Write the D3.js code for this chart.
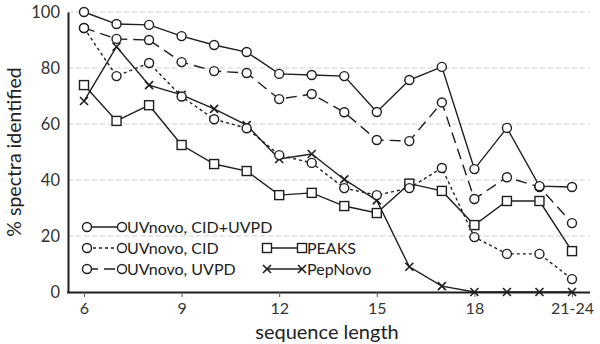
<!DOCTYPE html>
<html>
<head>
<meta charset="utf-8">
<script src="https://cdn.jsdelivr.net/npm/d3@7"></script>
<style>
  body { margin: 0; background: #fff; }
  svg { display: block; font-family: Lato, "Open Sans", sans-serif; }
</style>
</head>
<body>
<div id="chart"></div>
<script>
// Categories (sequence length)
const lengths = ['6', '7', '8', '9', '10', '11', '12', '13', '14', '15', '16', '17', '18', '19', '20', '21-24'];
const tickLabels = ['6', '9', '12', '15', '18', '21-24'];
const yTicks = [0, 20, 40, 60, 80, 100];

// % spectra identified per method
const cidUvpd = [100, 95.7, 95.4, 91.4, 88.2, 85.7, 77.9, 77.5, 77.1, 64.3, 75.7, 80.4, 43.9, 58.6, 37.8, 37.5];
const cid     = [94.3, 77.1, 81.8, 69.8, 61.7, 58.5, 48.9, 46.1, 37.1, 34.6, 37.1, 44.3, 19.6, 13.6, 13.6, 4.6];
const uvpd    = [94.3, 90.4, 90, 82.1, 78.9, 78.2, 68.9, 70.7, 64.2, 54.3, 53.9, 67.7, 33.2, 41, 37.5, 24.6];
const peaks   = [73.9, 61.1, 66.7, 52.5, 45.7, 43.2, 34.6, 35.4, 30.7, 28.2, 38.7, 36.1, 23.9, 32.5, 32.5, 14.6];
const pepNovo = [68.2, 87.6, 73.9, 70.4, 65.4, 59.6, 47.5, 49.3, 40.2, 32.7, 9, 2.1, 0, 0, 0, 0];

const series = [
    { name: 'UVnovo, CID+UVPD', values: cidUvpd, dash: null, marker: 'circle' },
    { name: 'UVnovo, CID', values: cid, dash: '3,3', marker: 'circle' },
    { name: 'UVnovo, UVPD', values: uvpd, dash: '11,6', marker: 'circle' },
    { name: 'PEAKS', values: peaks, dash: null, marker: 'square' },
    { name: 'PepNovo', values: pepNovo, dash: null, marker: 'cross' }
];

const width = 600, height = 344;
const ink = '#1e1e1e';

const svg = d3.select('#chart')
    .append('svg')
    .attr('width', width)
    .attr('height', height);

// Scales
const x = d3.scalePoint()
    .domain(lengths)
    .range([84, 572]);

const y = d3.scaleLinear()
    .domain([0, 100])
    .range([292, 12]);

// Grid lines
svg.selectAll('.grid')
    .data(yTicks.filter(d => d > 0))
    .enter()
    .append('line')
    .attr('x1', 68)
    .attr('x2', 590)
    .attr('y1', d => y(d))
    .attr('y2', d => y(d))
    .attr('stroke', '#cfcfcf')
    .attr('stroke-width', 1)
    .attr('stroke-dasharray', '5,3');

// Y axis
const yAxis = svg.append('g')
    .attr('transform', 'translate(68,0)')
    .call(d3.axisLeft(y).tickValues(yTicks).tickSize(0).tickPadding(8));
yAxis.select('.domain').attr('stroke', ink).attr('stroke-width', 2);
yAxis.selectAll('text')
    .attr('fill', '#333')
    .style('font-size', '16.5px')
    .style('font-family', 'Lato, sans-serif');

// X axis
const xAxis = svg.append('g')
    .attr('transform', 'translate(0,292)')
    .call(d3.axisBottom(x).tickValues(tickLabels).tickSize(5).tickPadding(6).tickSizeOuter(0));
xAxis.select('.domain')
    .attr('d', 'M67,0.5H590')
    .attr('stroke', ink).attr('stroke-width', 2);
xAxis.selectAll('.tick line').attr('stroke', '#555');
xAxis.selectAll('text')
    .attr('fill', '#333')
    .style('font-size', '16px')
    .style('font-family', 'Lato, sans-serif');

// Axis titles
svg.append('text')
    .attr('x', 327)
    .attr('y', 339)
    .attr('text-anchor', 'middle')
    .attr('fill', '#222')
    .style('font-size', '20px')
    .text('sequence length');

svg.append('text')
    .attr('transform', 'translate(21,152) rotate(-90)')
    .attr('text-anchor', 'middle')
    .attr('fill', '#222')
    .style('font-size', '19.5px')
    .text('% spectra identified');

// Markers
function drawMarker(g, type, cx, cy) {
    if (type === 'circle') {
        g.append('circle')
            .attr('cx', cx).attr('cy', cy).attr('r', 4.5)
            .attr('fill', '#fff').attr('stroke', ink).attr('stroke-width', 1.4);
    } else if (type === 'square') {
        g.append('rect')
            .attr('x', cx - 4.5).attr('y', cy - 4.5)
            .attr('width', 9).attr('height', 9)
            .attr('fill', '#fff').attr('stroke', ink).attr('stroke-width', 1.4);
    } else {
        g.append('path')
            .attr('d', `M${cx - 4},${cy - 4}L${cx + 4},${cy + 4}M${cx - 4},${cy + 4}L${cx + 4},${cy - 4}`)
            .attr('stroke', ink).attr('stroke-width', 1.6);
    }
}

const line = d3.line()
    .x((d, i) => x(lengths[i]))
    .y(d => y(d));

// Lines drawn back to front
[...series].reverse().forEach(s => {
    svg.append('path')
        .datum(s.values)
        .attr('d', line)
        .attr('fill', 'none')
        .attr('stroke', ink)
        .attr('stroke-width', 1.4)
        .attr('stroke-dasharray', s.dash);
});
[...series].reverse().forEach(s => {
    const g = svg.append('g');
    s.values.forEach((v, i) => drawMarker(g, s.marker, x(lengths[i]), y(v)));
});

// Legend
const legendPos = [
    { x: 87, y: 227 },
    { x: 87, y: 248 },
    { x: 87, y: 269 },
    { x: 267, y: 248 },
    { x: 267, y: 269 }
];
series.forEach((s, i) => {
    const p = legendPos[i];
    const g = svg.append('g');
    g.append('line')
        .attr('x1', p.x).attr('x2', p.x + 35)
        .attr('y1', p.y).attr('y2', p.y)
        .attr('stroke', ink).attr('stroke-width', 1.4)
        .attr('stroke-dasharray', s.dash);
    drawMarker(g, s.marker, p.x, p.y);
    drawMarker(g, s.marker, p.x + 35, p.y);
    g.append('text')
        .attr('x', p.x + 40)
        .attr('y', p.y)
        .attr('dy', '0.35em')
        .attr('fill', '#222')
        .style('font-size', '16px')
        .text(s.name);
});
</script>
</body>
</html>
